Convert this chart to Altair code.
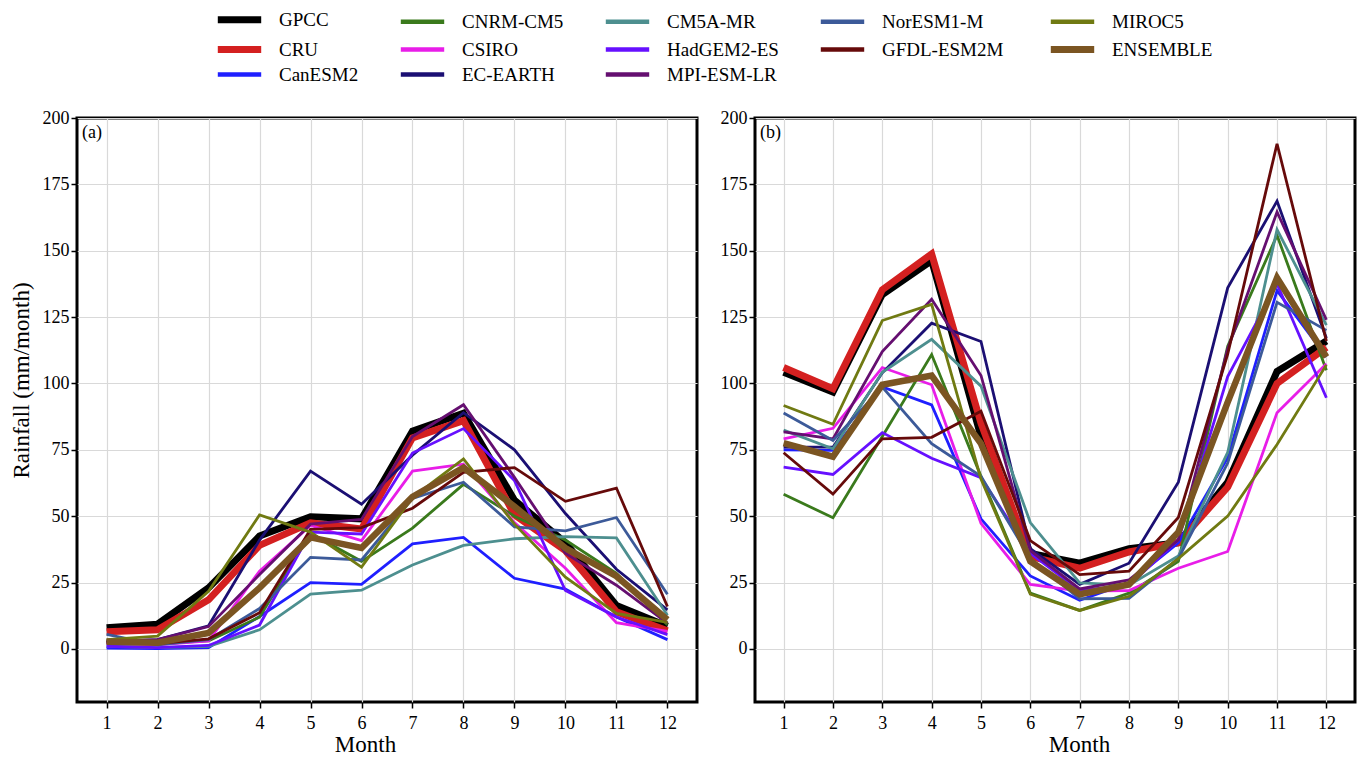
import altair as alt
import pandas as pd

months = list(range(1, 13))

legend_order = ["GPCC", "CNRM-CM5", "CM5A-MR", "NorESM1-M", "MIROC5",
                "CRU", "CSIRO", "HadGEM2-ES", "GFDL-ESM2M", "ENSEMBLE",
                "CanESM2", "EC-EARTH", "MPI-ESM-LR"]
colors = {"GPCC": "#000000", "CRU": "#d42020", "CanESM2": "#1f1fff",
          "CNRM-CM5": "#3a7a1c", "CSIRO": "#e81de8", "EC-EARTH": "#1b0f73",
          "CM5A-MR": "#4d8f8f", "HadGEM2-ES": "#6610ff", "MPI-ESM-LR": "#650f70",
          "NorESM1-M": "#3c5a99", "GFDL-ESM2M": "#660a0a", "MIROC5": "#707a12",
          "ENSEMBLE": "#7b5522"}
obs_names = ["GPCC", "CRU"]
model_names = ["CanESM2", "CNRM-CM5", "CSIRO", "EC-EARTH", "CM5A-MR", "HadGEM2-ES",
               "MPI-ESM-LR", "NorESM1-M", "GFDL-ESM2M", "MIROC5"]

# Panel (a)
gpcc_a = [8, 9.3, 23, 42.5, 49.8, 49, 82, 88.8, 56, 40, 16.4, 8.5]
cru_a = [6.5, 7.2, 18.5, 39, 47.5, 45.2, 79.5, 86, 50.5, 37, 14, 6.8]
canesm2_a = [0.3, 0.1, 0.5, 12.2, 25, 24.3, 39.6, 42, 26.6, 22.5, 12, 3.5]
cnrm_a = [3, 2, 3, 12, 43.5, 33, 45.5, 62, 50, 41, 28.5, 9.1]
csiro_a = [2, 1.5, 3, 29.3, 46.5, 40.8, 67, 69.6, 47.6, 30.4, 9.9, 6.6]
ecearth_a = [2.5, 3.5, 8.7, 41, 67, 54.5, 73, 89, 75, 51, 30, 14.7]
cm5a_a = [1, 0.5, 1, 7.2, 20.6, 22.1, 31.6, 39, 41.5, 42.3, 41.8, 12.7]
hadgem_a = [1, 0.5, 1.3, 9, 44, 43.3, 73.8, 83, 63.4, 22, 12, 5.4]
mpi_a = [3, 3.5, 8.4, 28, 47, 48.8, 80, 92, 64.6, 36, 24, 9.7]
noresm_a = [5.5, 1.5, 3.5, 15.2, 34.5, 33.5, 56.7, 62.8, 46, 44.5, 49.5, 20.6]
gfdl_a = [2.5, 2, 3.8, 13.6, 45, 45.7, 53, 66.5, 68.3, 55.6, 60.6, 16]
miroc5_a = [3.5, 4.8, 21.7, 50.5, 44, 30.8, 57, 71.6, 47, 27, 13.4, 10]
ensemble_a = [2.7, 2.3, 6, 23, 42, 38, 57.3, 68.3, 53.6, 38, 27.4, 11]

# Panel (b)
gpcc_b = [104.2, 96.8, 133.5, 146.3, 80, 36, 32.3, 37.8, 40, 62.8, 104.5, 116]
cru_b = [106, 98, 135.3, 148.8, 85, 34.8, 30.4, 36.5, 40, 61, 100, 113.6]
canesm2_b = [75, 74.8, 98.7, 91.9, 49, 27.5, 18.3, 24.9, 40, 72, 135, 110]
cnrm_b = [58.3, 49.4, 80, 110.9, 65, 21, 14.5, 21, 33, 114, 155.8, 105]
csiro_b = [79.1, 83.1, 106, 99.5, 47.3, 24.3, 21.8, 22, 30.4, 36.7, 89, 107.4]
ecearth_b = [76, 76, 104, 122.7, 115.8, 37.8, 24.3, 32.3, 62.8, 136, 168.7, 117]
cm5a_b = [82.4, 75.4, 104.2, 116.6, 99, 47.6, 24.9, 24, 35, 74, 158, 122]
hadgem_b = [68.5, 65.7, 81.5, 71.8, 64.5, 36, 22, 24, 41, 102.6, 137.5, 94.6]
mpi_b = [81.8, 79.1, 112, 131.7, 103, 37, 22.6, 26, 41, 113, 164.6, 124]
noresm_b = [88.9, 78.5, 98.6, 77.3, 65, 34, 18.9, 19, 34, 70, 130.6, 120]
gfdl_b = [73.9, 58.3, 79.1, 79.7, 89.5, 40.8, 28, 29.3, 49.5, 111, 190.3, 116]
miroc5_b = [91.7, 84.6, 123.7, 129.8, 64, 20.6, 14.5, 19.8, 34, 50, 77, 107]
ensemble_b = [77.5, 72.4, 99.5, 103, 77.3, 33, 20.6, 24.3, 44, 93, 139.8, 110]

series_a = {"GPCC": gpcc_a, "CRU": cru_a, "CanESM2": canesm2_a, "CNRM-CM5": cnrm_a,
            "CSIRO": csiro_a, "EC-EARTH": ecearth_a, "CM5A-MR": cm5a_a,
            "HadGEM2-ES": hadgem_a, "MPI-ESM-LR": mpi_a, "NorESM1-M": noresm_a,
            "GFDL-ESM2M": gfdl_a, "MIROC5": miroc5_a, "ENSEMBLE": ensemble_a}
series_b = {"GPCC": gpcc_b, "CRU": cru_b, "CanESM2": canesm2_b, "CNRM-CM5": cnrm_b,
            "CSIRO": csiro_b, "EC-EARTH": ecearth_b, "CM5A-MR": cm5a_b,
            "HadGEM2-ES": hadgem_b, "MPI-ESM-LR": mpi_b, "NorESM1-M": noresm_b,
            "GFDL-ESM2M": gfdl_b, "MIROC5": miroc5_b, "ENSEMBLE": ensemble_b}


def to_df(series):
    rows = []
    for name, vals in series.items():
        for m, v in zip(months, vals):
            rows.append({"model": name, "month": m, "rain": v})
    return pd.DataFrame(rows)


FONT = "Liberation Serif"
legend = alt.Legend(
    orient="none", legendX=153, legendY=-108, columns=5, direction="horizontal",
    title=None, padding=0,
    symbolStrokeWidth=alt.ExprRef(
        "indexof(['GPCC','CRU','ENSEMBLE'], datum.value) >= 0 ? 7 : 4.5"))
color_scale = alt.Scale(domain=legend_order, range=[colors[m] for m in legend_order])


def panel(series, label, ytitle, title_x, width):
    df = to_df(series)
    base = alt.Chart(df)
    x = alt.X("month:Q", scale=alt.Scale(domain=[0.42, 12.58], nice=False, zero=False),
              axis=alt.Axis(values=months, title="Month", titleX=title_x, titleY=31,
                            titleBaseline="top", labelPadding=6))
    if ytitle:
        y = alt.Y("rain:Q", scale=alt.Scale(domain=[-20, 200], nice=False),
                  axis=alt.Axis(values=list(range(0, 201, 25)), title=ytitle,
                                titlePadding=9, labelPadding=2, titleY=262))
    else:
        y = alt.Y("rain:Q", scale=alt.Scale(domain=[-20, 200], nice=False),
                  axis=alt.Axis(values=list(range(0, 201, 25)), title=None, labelPadding=2))
    color = alt.Color("model:N", scale=color_scale, legend=legend, sort=legend_order)
    l_obs = base.transform_filter(alt.FieldOneOfPredicate(field="model", oneOf=obs_names)) \
        .mark_line(strokeWidth=7).encode(x=x, y=y, color=color)
    l_mod = base.transform_filter(alt.FieldOneOfPredicate(field="model", oneOf=model_names)) \
        .mark_line(strokeWidth=2.8).encode(x=x, y=y, color=color)
    l_ens = base.transform_filter(alt.FieldEqualPredicate(field="model", equal="ENSEMBLE")) \
        .mark_line(strokeWidth=6.5).encode(x=x, y=y, color=color)
    txt = alt.Chart(pd.DataFrame({"t": [label]})).mark_text(
        align="left", baseline="middle", font=FONT, fontSize=18, color="black"
    ).encode(x=alt.value(5), y=alt.value(15), text="t:N")
    return alt.layer(l_obs, l_mod, l_ens, txt).properties(width=width, height=584)


pa = panel(series_a, "(a)", "Rainfall (mm/month)", 288, 620)
pb = panel(series_b, "(b)", None, 324, 600)

chart = alt.hconcat(pa, pb, spacing=19).properties(
    padding={"left": 0, "top": 2, "right": 0, "bottom": 0}
).configure_view(
    stroke="black", strokeWidth=3
).configure_axis(
    grid=True, gridColor="#d9d9d9", gridWidth=1.2, domain=False,
    tickColor="black", tickSize=6, tickWidth=1.5,
    labelFont=FONT, labelFontSize=18, labelColor="black",
    titleFont=FONT, titleFontSize=23, titleFontWeight="normal", titleColor="black"
).configure_legend(
    labelFont=FONT, labelFontSize=19, labelColor="black",
    symbolType="M-1.55,0H1.55", symbolSize=784, labelOffset=30,
    columnPadding=32, rowPadding=1,
    symbolFillColor="transparent"
)

chart.save("out.html", embed_options={"renderer": "svg", "actions": False})
